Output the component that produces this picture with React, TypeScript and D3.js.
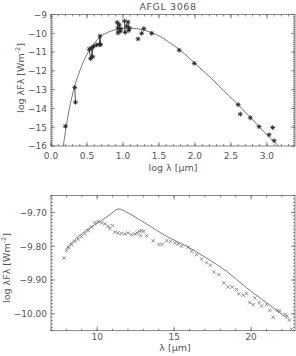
import React from 'react';
import * as d3 from 'd3';

// SED panel (log lambda vs log lambda F lambda)
const sedModel: [number, number][] = [
  [0.17, -16], [0.21, -15.0], [0.25, -14.1], [0.29, -13.4], [0.33, -12.8], [0.4, -12.0],
  [0.47, -11.35], [0.56, -10.75], [0.68, -10.2], [0.82, -9.9], [0.96, -9.77], [1.1, -9.73],
  [1.28, -9.82], [1.51, -10.16], [1.65, -10.5], [1.8, -10.92], [2.0, -11.6], [2.2, -12.3],
  [2.4, -13.05], [2.6, -13.8], [2.8, -14.6], [3.0, -15.4], [3.16, -16],
];

// photometry measured at several epochs, joined by lines
const sedGroups: [number, number][][] = [
  [[0.33, -12.88], [0.34, -13.67]],
  [[0.53, -10.85], [0.55, -11.35], [0.59, -10.7]],
  [[0.56, -10.78], [0.58, -11.25]],
  [[0.63, -10.62], [0.67, -10.6], [0.68, -10.15], [0.69, -10.6]],
  [[0.92, -9.42], [0.93, -9.98]],
  [[0.95, -9.55], [0.96, -9.9]],
  [[0.93, -9.72], [0.97, -9.76]],
  [[1.02, -9.35], [1.03, -9.95]],
  [[1.07, -9.4], [1.08, -9.85]],
  [[1.05, -9.62], [1.09, -9.72]],
];

const sedSingles: [number, number][] = [
  [0.2, -14.95], [1.21, -10.3], [1.26, -10.0], [1.29, -9.75], [1.4, -10.0], [1.78, -10.9],
  [1.99, -11.6], [2.6, -13.8], [2.63, -14.3], [2.77, -14.5], [2.89, -14.97], [3.03, -15.4],
  [3.08, -15.02], [3.1, -15.72],
];

const sedXTicks = [0, 0.5, 1, 1.5, 2, 2.5, 3];
const sedYTicks = [-16, -15, -14, -13, -12, -11, -10, -9];

// spectrum panel (lambda vs log lambda F lambda)
const specModel: [number, number][] = [
  [7.95, -9.81], [8.66, -9.776], [9.53, -9.746], [10.18, -9.727], [10.82, -9.707],
  [11.36, -9.69], [12.01, -9.702], [12.77, -9.722], [13.21, -9.734], [14.51, -9.771],
  [15.81, -9.8], [17.1, -9.835], [18.4, -9.874], [19.7, -9.923], [21.0, -9.967],
  [21.86, -9.997], [22.34, -10.014],
];

const specData: [number, number][] = [
  [7.84, -9.835], [8.01, -9.813], [8.16, -9.805], [8.34, -9.795], [8.55, -9.786],
  [8.77, -9.779], [8.99, -9.771], [9.2, -9.763], [9.42, -9.754], [9.64, -9.743],
  [9.85, -9.73], [10.06, -9.727], [10.29, -9.731], [10.5, -9.734], [10.71, -9.741],
  [10.82, -9.748], [11.0, -9.739], [11.15, -9.758], [11.36, -9.761], [11.58, -9.762],
  [11.8, -9.764], [12.01, -9.761], [12.23, -9.766], [12.45, -9.764], [12.6, -9.761],
  [12.73, -9.756], [12.82, -9.769], [12.88, -9.754], [13.03, -9.756], [13.21, -9.769],
  [13.64, -9.784], [14.01, -9.795], [14.22, -9.795], [14.51, -9.784], [14.77, -9.786],
  [15.05, -9.79], [15.26, -9.793], [15.48, -9.8], [15.91, -9.803], [16.13, -9.815],
  [16.45, -9.825], [16.78, -9.838], [17.1, -9.849], [17.36, -9.856], [17.58, -9.876],
  [17.9, -9.884], [18.23, -9.909], [18.51, -9.921], [18.77, -9.921], [19.05, -9.928],
  [19.2, -9.941], [19.48, -9.945], [19.7, -9.94], [19.92, -9.967], [20.13, -9.973],
  [20.24, -9.953], [20.52, -9.967], [20.68, -9.977], [21.0, -9.973], [21.22, -9.99],
  [21.43, -10.01], [21.71, -9.99], [21.86, -9.992], [22.19, -10.002], [22.34, -10.007],
  [22.47, -10.019], [22.62, -10.046],
];

const specXTicks = [10, 15, 20];
const specYTicks = [-10.0, -9.9, -9.8, -9.7];

const FONT = 'DejaVu Sans';
const INK = '#555';

function Frame({ x, y, xMinor, yMinor, xMajor, yMajor, majLen = 4, minLen = 2 }: any) {
  const [x0, x1] = x.range();
  const [y0, y1] = y.range();
  return (
    <g stroke={INK} strokeWidth={0.7} fill="none">
      <rect x={x0} y={y1} width={x1 - x0} height={y0 - y1} />
      {xMinor.map((t: number, i: number) => (
        <g key={'xm' + i}>
          <line x1={x(t)} x2={x(t)} y1={y0} y2={y0 - minLen} />
          <line x1={x(t)} x2={x(t)} y1={y1} y2={y1 + minLen} />
        </g>
      ))}
      {xMajor.map((t: number, i: number) => (
        <g key={'xM' + i}>
          <line x1={x(t)} x2={x(t)} y1={y0} y2={y0 - majLen} />
          <line x1={x(t)} x2={x(t)} y1={y1} y2={y1 + majLen} />
        </g>
      ))}
      {yMinor.map((t: number, i: number) => (
        <g key={'ym' + i}>
          <line x1={x0} x2={x0 + minLen} y1={y(t)} y2={y(t)} />
          <line x1={x1} x2={x1 - minLen} y1={y(t)} y2={y(t)} />
        </g>
      ))}
      {yMajor.map((t: number, i: number) => (
        <g key={'yM' + i}>
          <line x1={x0} x2={x0 + majLen} y1={y(t)} y2={y(t)} />
          <line x1={x1} x2={x1 - majLen} y1={y(t)} y2={y(t)} />
        </g>
      ))}
    </g>
  );
}

function Star({ cx, cy, r = 2.4 }: { cx: number; cy: number; r?: number }) {
  const d = r * 0.707;
  return (
    <g stroke="#222" strokeWidth={0.9}>
      <line x1={cx - r} x2={cx + r} y1={cy} y2={cy} />
      <line x1={cx} x2={cx} y1={cy - r} y2={cy + r} />
      <line x1={cx - d} x2={cx + d} y1={cy - d} y2={cy + d} />
      <line x1={cx - d} x2={cx + d} y1={cy + d} y2={cy - d} />
    </g>
  );
}

function Cross({ cx, cy, r = 1.7 }: { cx: number; cy: number; r?: number }) {
  return (
    <g stroke="#666" strokeWidth={0.7}>
      <line x1={cx - r} x2={cx + r} y1={cy - r} y2={cy + r} />
      <line x1={cx - r} x2={cx + r} y1={cy + r} y2={cy - r} />
    </g>
  );
}

function YLabel({ x, y }: { x: number; y: number }) {
  return (
    <text transform={`translate(${x},${y}) rotate(-90)`} textAnchor="middle" fontSize={9.5} fill={INK} fontFamily={FONT}>
      log λFλ [Wm<tspan fontSize={6.5} dy={-4}>-2</tspan><tspan dy={4}>]</tspan>
    </text>
  );
}

export default function App() {
  // top panel
  const xs = d3.scaleLinear().domain([0, 3.39]).range([51, 295]);
  const ys = d3.scaleLinear().domain([-16, -9]).range([146, 14.5]);
  const sedLine = d3.line<[number, number]>().x(d => xs(d[0])).y(d => ys(d[1])).curve(d3.curveCatmullRom);
  const joinLine = d3.line<[number, number]>().x(d => xs(d[0])).y(d => ys(d[1]));

  // bottom panel
  const xb = d3.scaleLinear().domain([7, 22.85]).range([51, 295]);
  const yb = d3.scaleLinear().domain([-10.05, -9.65]).range([330.7, 195.5]);
  const specLine = d3.line<[number, number]>().x(d => xb(d[0])).y(d => yb(d[1])).curve(d3.curveCatmullRom);

  const sedXMinor = d3.range(0, 3.395, 0.1);
  const sedYMinor = d3.range(-16, -9, 0.1);
  const specXMinor = d3.range(7, 22.9, 1);
  const specYMinor = d3.range(-10.05, -9.65, 0.01);

  return (
    <svg width={296} height={356} style={{ position: 'absolute', left: 0, top: 0, background: '#fff' }}>
      {/* top panel */}
      <text x={168} y={10} textAnchor="middle" fontSize={9.5} fill={INK} fontFamily={FONT} letterSpacing={0.6}>AFGL 3068</text>
      <Frame x={xs} y={ys} xMinor={sedXMinor} yMinor={sedYMinor} xMajor={sedXTicks} yMajor={sedYTicks} />
      <path d={sedLine(sedModel) || ''} fill="none" stroke="#555" strokeWidth={0.8} />
      {sedGroups.map((g, i) => (
        <path key={'g' + i} d={joinLine(g) || ''} fill="none" stroke="#222" strokeWidth={0.8} />
      ))}
      {sedGroups.flat().concat(sedSingles).map((p, i) => (
        <Star key={'s' + i} cx={xs(p[0])} cy={ys(p[1])} />
      ))}
      {sedXTicks.map(t => (
        <text key={'tx' + t} x={xs(t)} y={159} textAnchor="middle" fontSize={9} fill={INK} fontFamily={FONT}>{t.toFixed(1)}</text>
      ))}
      {sedYTicks.map(t => (
        <text key={'ty' + t} x={47} y={ys(t) + 3.3} textAnchor="end" fontSize={9} fill={INK} fontFamily={FONT}>{'\u2212' + Math.abs(t)}</text>
      ))}
      <text x={173} y={171} textAnchor="middle" fontSize={9.5} fill={INK} fontFamily={FONT}>log λ [μm]</text>
      <YLabel x={24} y={78} />

      {/* bottom panel */}
      <Frame x={xb} y={yb} xMinor={specXMinor} yMinor={specYMinor} xMajor={specXTicks} yMajor={specYTicks} />
      <path d={specLine(specModel) || ''} fill="none" stroke="#555" strokeWidth={0.8} />
      {specData.map((p, i) => (
        <Cross key={'c' + i} cx={xb(p[0])} cy={yb(p[1])} />
      ))}
      {specXTicks.map(t => (
        <text key={'bx' + t} x={xb(t)} y={340} textAnchor="middle" fontSize={9} fill={INK} fontFamily={FONT}>{t}</text>
      ))}
      {specYTicks.map(t => (
        <text key={'by' + t} x={47} y={yb(t) + 3.3} textAnchor="end" fontSize={9} fill={INK} fontFamily={FONT}>{'\u2212' + Math.abs(t).toFixed(2)}</text>
      ))}
      <text x={175} y={351} textAnchor="middle" fontSize={9.5} fill={INK} fontFamily={FONT}>λ [μm]</text>
      <YLabel x={10} y={268} />
    </svg>
  );
}
